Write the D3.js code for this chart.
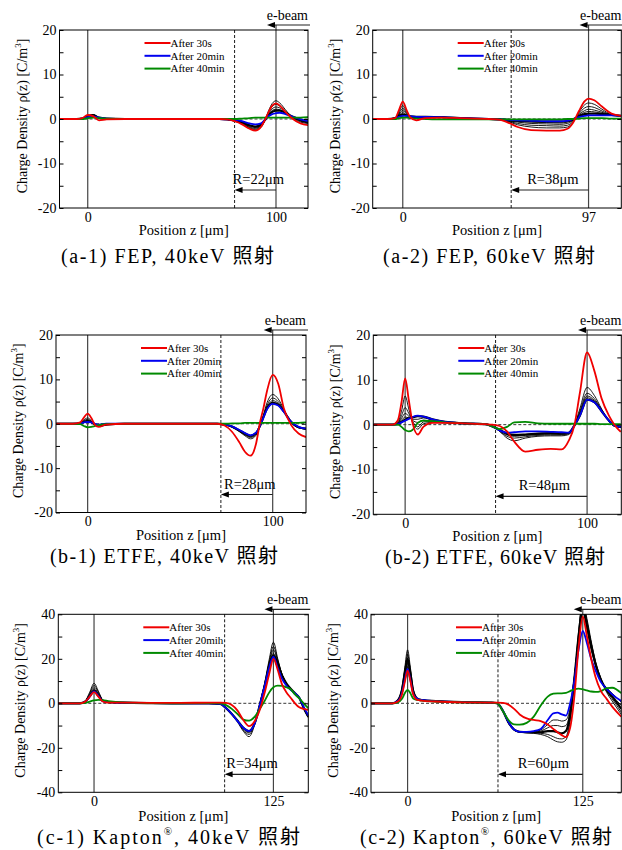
<!DOCTYPE html>
<html>
<head>
<meta charset="utf-8">
<title>Charge density profiles</title>
<style>
  body { margin: 0; background: #fff; }
  svg { display: block; }
  text { font-family: "Liberation Serif", "DejaVu Serif", serif; fill: #000; }
  .cap { font-family: "Liberation Serif", "Noto Sans CJK JP", serif; font-size: 20px; }
</style>
</head>
<body>
<div id="chart"></div>
<script src="https://cdn.jsdelivr.net/npm/d3@7/dist/d3.min.js"></script>
<script>
// panel settings
var panelIds = ["a-1", "a-2", "b-1", "b-2", "c-1", "c-2"];
var xDomains = [[-15, 117], [-15.7, 114.1], [-17.1, 118], [-17.5, 118.8], [-24.9, 149.3], [-26.1, 152.5]];
var yLimits = [20, 20, 20, 20, 40, 40];
var yTickStep = [5, 5, 5, 5, 10, 10];
var yLabelStep = [10, 10, 10, 10, 20, 20];
var thicknessZ = [100, 97, 100, 100, 125, 125];
var rangeStartZ = [78, 56.6, 72, 49.7, 91, 64.5];
var rangeLabels = ["R=22μm", "R=38μm", "R=28μm", "R=48μm", "R=34μm", "R=60μm"];
var legendLabels = [
  ["After 30s", "After 20min", "After 40min"],
  ["After 30s", "After 20min", "After 40min"],
  ["After 30s", "After 20min", "After 40min"],
  ["After 30s", "After 20min", "After 40min"],
  ["After 30s", "After 20mih", "After 40min"],
  ["After 30s", "After 20min", "After 40min"]
];
var captions = [
  ["(a-1) FEP, 40keV 照射"],
  ["(a-2) FEP, 60keV 照射"],
  ["(b-1) ETFE, 40keV 照射"],
  ["(b-2) ETFE, 60keV 照射"],
  ["(c-1) Kapton", "®", ", 40keV 照射"],
  ["(c-2) Kapton", "®", ", 60keV 照射"]
];

// (a-1) FEP 40keV
var zA1 = [-15, -6, -3, 0, 3, 6, 10, 20, 40, 60, 70, 74, 78, 82, 86, 89, 92, 94, 96, 98, 100, 102, 105, 109, 113, 117];
var a1Red = [0, 0, 0.2, 0.9, 0.6, -0.3, -0.1, 0, 0, 0, 0, -0.1, -0.5, -1.2, -2.2, -2.6, -1.8, -0.3, 1.5, 3.0, 3.5, 3.0, 1.6, 0, -1.0, -1.4];
var a1Black = [
  [0, 0, 0.1, 0.8, 1.0, 0.3, 0, 0, 0, 0, 0, -0.1, -0.5, -1.1, -2.0, -2.5, -1.9, -0.3, 1.8, 3.5, 4.1, 3.6, 2.1, 0.2, -0.7, -1.0],
  [0, 0, 0.1, 0.7, 0.9, 0.3, 0, 0, 0, 0, 0, -0.1, -0.4, -1.0, -1.9, -2.3, -1.8, -0.4, 1.4, 2.8, 3.3, 2.9, 1.8, 0.3, -0.5, -0.9],
  [0, 0, 0.1, 0.6, 0.9, 0.3, 0.1, 0, 0, 0, 0, -0.1, -0.4, -0.9, -1.7, -2.1, -1.6, -0.4, 1.1, 2.3, 2.7, 2.5, 1.6, 0.4, -0.4, -0.8],
  [0, 0, 0.1, 0.6, 0.8, 0.3, 0.1, 0, 0, 0, 0, -0.1, -0.3, -0.8, -1.5, -1.9, -1.5, -0.4, 0.9, 1.9, 2.2, 2.1, 1.5, 0.4, -0.3, -0.7],
  [0, 0, 0.1, 0.5, 0.8, 0.3, 0.1, 0, 0, 0, 0, -0.1, -0.3, -0.7, -1.4, -1.7, -1.3, -0.3, 0.8, 1.6, 1.9, 1.9, 1.4, 0.5, -0.2, -0.6]
];
var a1Blue = [0, 0, 0.1, 0.4, 0.6, 0.3, 0.1, 0, 0, 0, 0, -0.1, -0.2, -0.5, -1.0, -1.2, -1.0, -0.2, 0.6, 1.1, 1.3, 1.4, 1.1, 0.5, -0.1, -0.5];
var a1Green = [0, 0, 0, 0.2, 0.3, 0.2, 0.1, 0, 0, 0, 0, 0, 0, 0.1, 0.2, 0.3, 0.3, 0.3, 0.3, 0.3, 0.3, 0.3, 0.3, 0.3, 0.3, 0.4];

// (a-2) FEP 60keV
var zA2 = [-15.7, -8, -4, -2, 0, 2, 4, 7, 12, 20, 30, 45, 51, 55, 60, 67, 75, 82, 86, 89, 92, 95, 97, 100, 104, 109, 114];
var a2Red = [0, 0, 0.2, 2.0, 3.9, 2.0, 0.3, -0.3, 0.2, 0.3, 0.2, 0, -0.2, -0.8, -1.8, -2.5, -2.6, -2.6, -2.2, -0.8, 1.8, 4.0, 4.6, 4.2, 2.8, 1.2, 0.7];
var a2Black = [
  [0, 0, 0.2, 1.6, 3.0, 1.6, 0.5, 0.4, 0.5, 0.4, 0.2, 0, -0.2, -0.6, -1.3, -1.8, -2.0, -2.0, -1.8, -0.7, 1.5, 3.2, 3.6, 3.3, 2.2, 1.0, 0.7],
  [0, 0, 0.2, 1.3, 2.4, 1.3, 0.5, 0.4, 0.5, 0.4, 0.2, 0, -0.1, -0.5, -1.0, -1.4, -1.5, -1.6, -1.4, -0.5, 1.2, 2.5, 2.8, 2.6, 1.8, 0.9, 0.7],
  [0, 0, 0.2, 1.1, 1.9, 1.1, 0.5, 0.5, 0.5, 0.4, 0.2, 0, -0.1, -0.4, -0.7, -1.0, -1.1, -1.2, -1.0, -0.3, 1.0, 1.9, 2.2, 2.0, 1.5, 0.9, 0.7],
  [0, 0, 0.2, 0.9, 1.4, 0.9, 0.6, 0.5, 0.5, 0.4, 0.2, 0, -0.1, -0.3, -0.5, -0.7, -0.8, -0.9, -0.7, -0.2, 0.8, 1.5, 1.7, 1.6, 1.3, 0.9, 0.7],
  [0, 0, 0.2, 0.7, 1.0, 0.8, 0.6, 0.5, 0.5, 0.4, 0.2, 0, -0.1, -0.2, -0.4, -0.5, -0.6, -0.6, -0.5, -0.1, 0.6, 1.1, 1.2, 1.2, 1.1, 0.9, 0.7]
];
var a2Blue = [0, 0, 0.1, 0.5, 0.7, 0.7, 0.6, 0.5, 0.5, 0.4, 0.2, 0, -0.1, -0.2, -0.3, -0.4, -0.5, -0.5, -0.4, 0, 0.4, 0.7, 0.8, 0.8, 0.8, 0.8, 0.7];
var a2Green = [0, 0, 0, 0.2, 0.3, 0.3, 0.2, 0.1, 0, -0.1, -0.1, -0.1, -0.1, -0.1, -0.1, -0.1, -0.1, -0.1, 0, 0, 0.1, 0.2, 0.2, 0.2, 0.2, 0.1, 0.1];

// (b-1) ETFE 40keV
var zB1 = [-17, -8, -4, -2, 0, 2, 4, 6, 10, 20, 40, 60, 70, 74, 78, 82, 85, 88, 91, 93, 95, 97, 100, 103, 106, 110, 114, 118];
var b1Red = [0, 0, 0.3, 1.4, 2.3, 1.3, -0.3, -0.7, -0.2, 0, 0, 0, 0, -0.4, -1.8, -4.2, -6.3, -7.2, -4.5, 0.0, 3.5, 7.5, 11.0, 9.0, 3.5, -0.3, -2.2, -3.0];
var b1Black = [
  [0, 0, 0.2, 0.9, 1.3, 0.7, -0.3, -0.6, -0.2, 0, 0, 0, 0, -0.2, -0.8, -1.8, -2.7, -3.4, -2.6, -0.6, 2.0, 4.8, 6.6, 5.6, 3.3, 0.3, -0.9, -1.2],
  [0, 0, 0.2, 0.7, 1.0, 0.6, -0.3, -0.6, -0.2, 0, 0, 0, 0, -0.2, -0.7, -1.7, -2.5, -3.1, -2.4, -0.6, 1.8, 4.2, 5.8, 5.0, 3.1, 0.3, -0.9, -1.2],
  [0, 0, 0.1, 0.5, 0.8, 0.5, -0.2, -0.5, -0.2, 0, 0, 0, 0, -0.2, -0.7, -1.6, -2.4, -2.9, -2.2, -0.6, 1.6, 3.8, 5.2, 4.6, 2.9, 0.3, -0.8, -1.2],
  [0, 0, 0.1, 0.4, 0.6, 0.4, -0.2, -0.5, -0.2, 0, 0, 0, 0, -0.2, -0.6, -1.5, -2.2, -2.7, -2.1, -0.6, 1.5, 3.5, 4.7, 4.3, 2.8, 0.4, -0.8, -1.1]
];
var b1Blue = [0, 0, 0.1, 0.3, 0.4, 0.3, 0, -0.2, 0, 0, 0, 0, 0, -0.2, -0.6, -1.4, -2.1, -2.6, -2.0, -0.6, 1.4, 3.3, 4.5, 4.1, 2.7, 0.4, -0.7, -1.1];
var b1Green = [0, 0, -0.1, -0.5, -0.8, -0.7, -0.5, -0.3, -0.1, 0, 0, 0, 0, 0, 0.1, 0.1, 0.2, 0.2, 0.2, 0.2, 0.2, 0.2, 0.2, 0.2, 0.2, 0.2, 0.2, 0.3];

// (b-2) ETFE 60keV
var zB2 = [-17.5, -7, -4, -2, 0, 2, 4, 7, 10, 15, 22, 32, 44, 48, 52, 56, 60, 66, 73, 80, 86, 90, 93, 96, 100, 104, 108, 112, 115, 118.5];
var b2Red = [0, 0, 1.0, 5.0, 10.3, 5.5, 0.5, -2.2, -0.5, 0.4, 0.4, 0.3, 0.1, 0, -0.3, -1.5, -3.8, -6.0, -5.6, -5.4, -5.5, -3.5, -0.2, 7.0, 16.1, 12.0, 5.8, 2.0, 0.0, -1.6];
var b2Black = [
  [0, 0, 0.6, 3.0, 6.4, 3.5, 0.5, -1.0, 0.2, 0.5, 0.4, 0.3, 0.1, -0.3, -1.5, -3.0, -3.6, -3.0, -2.6, -2.5, -2.5, -2.2, -0.2, 3.5, 8.3, 6.5, 3.5, 0.8, -0.4, -0.6],
  [0, 0, 0.4, 2.0, 3.8, 2.5, 0.8, -0.5, 0.6, 0.7, 0.5, 0.3, 0.1, -0.4, -1.5, -2.6, -3.0, -2.7, -2.4, -2.3, -2.3, -2.0, -0.2, 3.0, 7.0, 5.8, 3.3, 0.8, -0.3, -0.6],
  [0, 0, 0.3, 1.4, 2.5, 1.9, 1.0, 0.5, 1.0, 0.8, 0.5, 0.3, 0.1, -0.4, -1.4, -2.3, -2.6, -2.4, -2.2, -2.1, -2.1, -1.9, -0.2, 2.6, 6.4, 5.4, 3.2, 0.9, -0.2, -0.5],
  [0, 0, 0.2, 1.0, 1.7, 1.5, 1.2, 1.2, 1.5, 1.0, 0.6, 0.3, 0.1, -0.4, -1.3, -2.1, -2.4, -2.2, -2.0, -2.0, -2.0, -1.8, -0.2, 2.3, 6.0, 5.2, 3.1, 0.9, -0.2, -0.5],
  [0, 0, 0.1, 0.6, 1.1, 1.4, 1.6, 1.9, 1.8, 1.2, 0.6, 0.3, 0.1, -0.4, -1.2, -2.0, -2.3, -2.2, -2.0, -1.9, -2.0, -1.8, -0.2, 2.0, 5.6, 5.0, 3.0, 0.9, -0.2, -0.5]
];
var b2Blue = [0, 0, 0.1, 0.5, 0.9, 1.3, 1.7, 2.0, 1.8, 1.2, 0.6, 0.3, 0.1, -0.4, -1.3, -1.8, -1.7, -1.5, -1.5, -1.6, -1.7, -1.8, -0.2, 2.0, 5.6, 5.0, 3.0, 0.9, -0.2, -0.5];
var b2Green = [0, 0, 0, -0.5, -1.2, -1.5, -1.2, 0.4, 0.9, 0.8, 0.5, 0.3, 0.1, -0.4, -1.0, -0.5, 0.5, 0.6, 0.3, 0.2, 0.2, 0.2, 0.2, 0.2, 0.2, 0.2, 0.1, 0.1, 0.1, 0.1];

// (c-1) Kapton 40keV
var zC1 = [-25, -10, -6, -3, 0, 3, 6, 10, 20, 40, 60, 80, 88, 92, 96, 100, 104, 108, 112, 116, 119, 122, 125, 128, 131, 134, 137, 140, 143, 146, 149.3];
var c1Red = [0, 0, 0.8, 3.0, 5.0, 3.0, 0.8, 0.3, 0.3, 0.2, 0.2, 0.3, 0.3, 0.2, -0.8, -3.3, -7.5, -10.3, -8.0, -2.0, 5.0, 13.0, 20.0, 15.0, 8.5, 5.0, 2.5, 0.0, -1.8, -2.5, -3.0];
var c1Black = [
  [0, 0, 1.2, 5.0, 9.0, 5.5, 1.6, 0.6, 0.3, 0.1, 0, 0, -0.3, -2.5, -5.0, -8.5, -12.5, -15.0, -9.5, 1.0, 9.5, 19.5, 27.5, 20.0, 13.0, 9.0, 6.5, 4.5, 2.5, -2.0, -6.5],
  [0, 0, 1.1, 4.5, 8.0, 5.0, 1.5, 0.6, 0.3, 0.1, 0, 0, -0.3, -2.4, -4.8, -8.0, -12.0, -14.0, -9.0, 1.0, 9.0, 18.5, 25.5, 19.5, 13.0, 9.0, 6.5, 4.5, 2.5, -2.0, -6.3],
  [0, 0, 1.0, 4.0, 7.0, 4.4, 1.4, 0.6, 0.3, 0.1, 0, 0, -0.3, -2.3, -4.7, -7.8, -11.5, -13.3, -8.8, 0.8, 8.5, 17.5, 24.0, 19.0, 12.8, 9.0, 6.5, 4.5, 2.5, -2.0, -6.2],
  [0, 0, 0.9, 3.6, 6.2, 4.0, 1.3, 0.5, 0.3, 0.1, 0, 0, -0.3, -2.3, -4.7, -7.6, -11.2, -12.8, -8.6, 0.6, 8.2, 16.8, 22.5, 18.3, 12.8, 9.0, 6.5, 4.5, 2.5, -2.0, -6.0],
  [0, 0, 0.8, 3.2, 5.6, 3.5, 1.1, 0.5, 0.3, 0.1, 0, 0, -0.3, -2.2, -4.8, -7.8, -11.0, -12.5, -8.8, 0.5, 8.0, 16.5, 21.5, 17.5, 12.5, 9.0, 6.5, 4.5, 2.5, -2.0, -6.0]
];
var c1Blue = [0, 0, 0.7, 3.0, 5.4, 3.3, 1.0, 0.5, 0.3, 0.1, 0, 0, -0.3, -2.2, -4.8, -8.0, -11.0, -12.5, -9.0, 0.5, 8.0, 16.0, 21.0, 16.0, 11.0, 8.0, 6.0, 4.5, 2.5, -1.5, -5.5];
var c1Green = [0, 0, 0.2, 0.8, 1.3, 1.5, 1.4, 1.0, 0.4, 0.1, 0, 0.1, 0, -0.8, -2.5, -4.8, -7.3, -7.8, -6.0, -2.0, 1.2, 4.8, 7.2, 7.9, 7.8, 7.2, 6.3, 4.0, 2.2, 0, -2.2];

// (c-2) Kapton 60keV
var zC2 = [-26, -11, -7, -4, -2, 0, 2, 4, 7, 10, 20, 40, 60, 64, 68, 72, 76, 80, 85, 90, 95, 100, 104, 107, 110, 113, 116, 119, 122, 125, 128, 131, 134, 138, 142, 146, 152.5];
var c2Red = [0, 0, 0.8, 4.0, 9.5, 14.7, 10.0, 4.0, 1.5, 1.2, 0.8, 0.4, 0.3, 0.3, 0.2, -0.6, -2.5, -5.0, -6.8, -7.5, -8.0, -9.5, -11.5, -13.0, -14.3, -15.2, -11.0, 3.0, 25.0, 39.0, 30.0, 20.0, 12.0, 5.5, 2.0, -1.5, -6.0];
var c2Black = [
  [0, 0, 1.5, 7.0, 16.0, 24.0, 16.0, 6.5, 2.2, 1.5, 1.0, 0.5, 0.3, 0.0, -3.5, -9.0, -12.0, -13.0, -13.3, -13.5, -14.0, -15.0, -16.5, -17.3, -17.5, -16.5, -8.0, 10.0, 32.0, 46.0, 38.0, 28.0, 19.0, 11.0, 5.0, 1.0, -5.0],
  [0, 0, 1.4, 6.5, 14.5, 22.0, 14.5, 6.0, 2.2, 1.5, 1.0, 0.5, 0.3, 0.0, -3.5, -8.8, -12.0, -13.0, -13.2, -13.3, -13.5, -14.0, -15.0, -15.8, -16.0, -15.0, -7.0, 10.0, 31.0, 45.0, 37.0, 27.0, 18.5, 11.0, 5.5, 2.0, -4.0],
  [0, 0, 1.3, 6.0, 13.5, 20.0, 13.5, 5.5, 2.1, 1.5, 1.0, 0.5, 0.3, 0.0, -3.4, -8.6, -11.8, -12.8, -13.0, -13.0, -13.0, -12.5, -12.5, -13.0, -13.5, -12.5, -5.0, 11.0, 30.0, 43.0, 35.0, 26.0, 18.0, 10.5, 6.0, 3.0, -2.5],
  [0, 0, 1.2, 5.5, 12.0, 18.0, 12.0, 5.0, 2.0, 1.5, 1.0, 0.5, 0.3, 0.0, -3.4, -8.5, -11.8, -12.8, -13.0, -13.0, -12.5, -11.0, -10.0, -10.0, -10.5, -10.0, -3.5, 12.0, 29.0, 42.0, 34.0, 25.0, 17.5, 10.5, 6.5, 3.5, -1.0],
  [0, 0, 1.1, 5.0, 11.0, 16.5, 11.0, 4.5, 2.0, 1.5, 1.0, 0.5, 0.3, 0.0, -3.3, -8.4, -11.8, -12.8, -13.0, -12.8, -12.0, -9.5, -7.5, -7.5, -8.0, -7.5, -2.0, 12.0, 28.0, 41.0, 33.0, 24.0, 17.0, 10.0, 7.0, 4.5, 0.5]
];
var c2Blue = [0, 0, 1.0, 4.6, 10.5, 15.5, 10.5, 4.3, 2.0, 1.5, 1.0, 0.5, 0.3, 0.0, -3.3, -8.4, -11.8, -12.8, -12.8, -12.5, -11.5, -7.5, -4.5, -4.2, -5.0, -5.5, 0.0, 10.0, 24.0, 32.5, 27.0, 20.0, 15.0, 9.5, 6.5, 4.0, 1.0];
var c2Green = [0, 0, 0.4, 2.0, 4.5, 6.0, 4.5, 2.2, 1.5, 1.2, 0.8, 0.4, 0.3, 0.0, -3.5, -7.5, -9.5, -9.6, -8.8, -6.0, -1.0, 3.0, 4.3, 4.5, 4.5, 4.7, 5.5, 6.3, 6.6, 6.3, 5.8, 5.3, 5.1, 5.5, 6.8, 7.0, 4.6];

var zGrids = [zA1, zA2, zB1, zB2, zC1, zC2];
var reds = [a1Red, a2Red, b1Red, b2Red, c1Red, c2Red];
var blacks = [a1Black, a2Black, b1Black, b2Black, c1Black, c2Black];
var blues = [a1Blue, a2Blue, b1Blue, b2Blue, c1Blue, c2Blue];
var greens = [a1Green, a2Green, b1Green, b2Green, c1Green, c2Green];

var width = 622;
var height = 850;

var svg = d3.select("#chart")
    .append("svg")
    .attr("width", width)
    .attr("height", height);

// plot frames (pixels)
var boxes = [
  { l: 59.5, r: 308, t: 30, b: 208 },
  { l: 372.7, r: 621.3, t: 30, b: 208 },
  { l: 56, r: 306, t: 335, b: 512.5 },
  { l: 373.3, r: 621.3, t: 335, b: 514.3 },
  { l: 58.3, r: 308.3, t: 614.3, b: 792.3 },
  { l: 371, r: 621.3, t: 614.3, b: 792.3 }
];
var captionPos = [
  { x: 61, y: 263, w: 213 },
  { x: 383, y: 263, w: 212 },
  { x: 50, y: 563, w: 228 },
  { x: 385, y: 564, w: 220 },
  { x: 37, y: 844, w: 263 },
  { x: 360, y: 844, w: 252 }
];
// which black curve is the heavy overlapping bundle
var thickBlack = [4, 4, 3, 4, 4, 2];

var colors = { red: "#f00000", blue: "#0000f0", green: "#008a00", black: "#000" };

panelIds.forEach(function(id, i) { drawPanel(i); });

function arrowHead(g, tx, ty) {
  g.append("path")
      .attr("d", "M" + tx + "," + ty + "l8,-3l0,6z")
      .attr("fill", "#000");
}

function drawPanel(i) {
  var b = boxes[i];
  var zs = zGrids[i];
  var L = yLimits[i];
  var x = d3.scaleLinear().domain(xDomains[i]).range([b.l, b.r]);
  var y = d3.scaleLinear().domain([-L, L]).range([b.b, b.t]);
  var g = svg.append("g").attr("class", "panel-" + panelIds[i]);

  g.append("clipPath").attr("id", "clip" + i)
    .append("rect")
      .attr("x", b.l).attr("y", b.t)
      .attr("width", b.r - b.l).attr("height", b.b - b.t);

  // zero line
  g.append("line")
      .attr("x1", b.l).attr("x2", b.r)
      .attr("y1", y(0)).attr("y2", y(0))
      .attr("stroke", "#222").attr("stroke-width", 0.9)
      .attr("stroke-dasharray", "3,2");

  // surface lines
  g.append("line")
      .attr("x1", x(0)).attr("x2", x(0))
      .attr("y1", b.t).attr("y2", b.b)
      .attr("stroke", "#444").attr("stroke-width", 1.2);
  g.append("line")
      .attr("x1", x(thicknessZ[i])).attr("x2", x(thicknessZ[i]))
      .attr("y1", b.t - 5).attr("y2", b.b)
      .attr("stroke", "#444").attr("stroke-width", 1.2);
  g.append("line")
      .attr("x1", x(rangeStartZ[i])).attr("x2", x(rangeStartZ[i]))
      .attr("y1", b.t).attr("y2", b.b)
      .attr("stroke", "#000").attr("stroke-width", 0.9)
      .attr("stroke-dasharray", "3,2");

  var line = d3.line()
      .x(function(d, k) { return x(zs[k]); })
      .y(function(d) { return y(d); })
      .curve(d3.curveMonotoneX);

  var curves = g.append("g").attr("clip-path", "url(#clip" + i + ")");
  blacks[i].forEach(function(s, k) {
    curves.append("path")
        .attr("d", line(s))
        .attr("fill", "none")
        .attr("stroke", colors.black)
        .attr("stroke-width", k === thickBlack[i] ? 2.2 : 0.9);
  });
  [[blues[i], colors.blue], [greens[i], colors.green], [reds[i], colors.red]].forEach(function(c) {
    curves.append("path")
        .attr("d", line(c[0]))
        .attr("fill", "none")
        .attr("stroke", c[1])
        .attr("stroke-width", 1.8);
  });

  // frame
  g.append("rect")
      .attr("x", b.l).attr("y", b.t)
      .attr("width", b.r - b.l).attr("height", b.b - b.t)
      .attr("fill", "none").attr("stroke", "#000").attr("stroke-width", 1);

  // y axes, ticks inside
  var ticks = d3.range(-L, L + 0.001, yTickStep[i]);
  var yAxisL = d3.axisLeft(y)
      .tickValues(ticks)
      .tickSize(-4)
      .tickPadding(3)
      .tickFormat(function(d) { return d % yLabelStep[i] === 0 ? String(d) : ""; });
  var gl = g.append("g").attr("transform", "translate(" + b.l + ",0)").call(yAxisL);
  gl.select(".domain").remove();
  gl.selectAll("text").attr("font-size", 14);

  var yAxisR = d3.axisRight(y).tickValues(ticks).tickSize(-4).tickFormat("");
  var gr = g.append("g").attr("transform", "translate(" + b.r + ",0)").call(yAxisR);
  gr.select(".domain").remove();

  // x axis labels
  var xAxis = d3.axisBottom(x)
      .tickValues([0, thicknessZ[i]])
      .tickSize(0)
      .tickPadding(4)
      .tickFormat(function(d) { return String(d); });
  var gx = g.append("g").attr("transform", "translate(0," + b.b + ")").call(xAxis);
  gx.select(".domain").remove();
  gx.selectAll("text").attr("font-size", 14);

  // axis titles
  g.append("text")
      .attr("x", (b.l + b.r) / 2)
      .attr("y", b.b + (L > 20 ? 29 : 27))
      .attr("text-anchor", "middle")
      .attr("font-size", 14.5)
      .text("Position z [μm]");

  var yt = g.append("text")
      .attr("transform", "translate(" + (b.l - 33) + "," + ((b.t + b.b) / 2 - 3) + ") rotate(-90)")
      .attr("text-anchor", "middle")
      .attr("font-size", 14);
  yt.append("tspan").text("Charge Density ρ(z) [C/m");
  yt.append("tspan").attr("dy", -6).attr("font-size", 9).text("3");
  yt.append("tspan").attr("dy", 6).text("]");

  // legend
  var lg = g.append("g").attr("transform", "translate(" + (b.l + 85) + "," + (b.t + 13) + ")");
  [colors.red, colors.blue, colors.green].forEach(function(c, k) {
    lg.append("line")
        .attr("x1", 0).attr("x2", 26)
        .attr("y1", k * 12.8).attr("y2", k * 12.8)
        .attr("stroke", c).attr("stroke-width", 2);
    lg.append("text")
        .attr("x", 26)
        .attr("y", k * 12.8)
        .attr("dy", "0.35em")
        .attr("font-size", 11)
        .text(legendLabels[i][k]);
  });

  // e-beam arrow
  var tipX = x(thicknessZ[i]) - 9;
  g.append("text")
      .attr("x", b.r)
      .attr("y", b.t - 10)
      .attr("text-anchor", "end")
      .attr("font-size", 14)
      .text("e-beam");
  g.append("line")
      .attr("x1", tipX + 6).attr("x2", b.r + 2)
      .attr("y1", b.t - 5).attr("y2", b.t - 5)
      .attr("stroke", "#222").attr("stroke-width", 1.2);
  arrowHead(g, tipX, b.t - 5);

  // range arrow
  var ry = b.b - 18;
  var x0 = x(rangeStartZ[i]);
  var x1 = x(thicknessZ[i]);
  g.append("line")
      .attr("x1", x0 + 6).attr("x2", x1)
      .attr("y1", ry).attr("y2", ry)
      .attr("stroke", "#222").attr("stroke-width", 1.2);
  arrowHead(g, x0, ry);
  g.append("text")
      .attr("x", (x0 + x1) / 2 + 3)
      .attr("y", b.b - 24)
      .attr("text-anchor", "middle")
      .attr("font-size", 14.5)
      .text(rangeLabels[i]);

  // caption
  var cp = captionPos[i];
  var cap = svg.append("text")
      .attr("class", "cap")
      .attr("x", cp.x)
      .attr("y", cp.y)
      .attr("textLength", cp.w)
      .attr("lengthAdjust", "spacing");
  var parts = captions[i];
  if (parts.length === 1) {
    cap.text(parts[0]);
  } else {
    cap.append("tspan").text(parts[0]);
    cap.append("tspan").attr("dy", -9).attr("font-size", 11).text(parts[1]);
    cap.append("tspan").attr("dy", 9).text(parts[2]);
  }
}
</script>
</body>
</html>
